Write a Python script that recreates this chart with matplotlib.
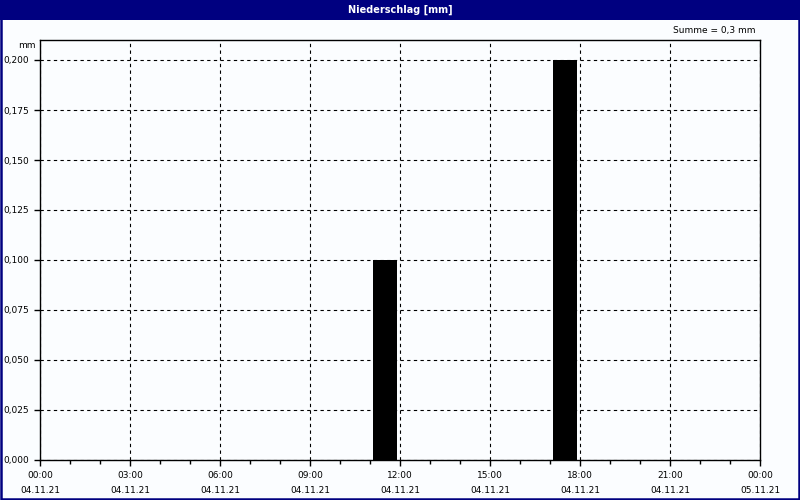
import matplotlib.pyplot as plt
import matplotlib.patches as mpatches
import numpy as np

# hourly precipitation 04.11.21, mm
hours = np.arange(24)
rain = [0, 0, 0, 0, 0, 0, 0, 0, 0, 0, 0, 0.1,
        0, 0, 0, 0, 0, 0.2, 0, 0, 0, 0, 0, 0]
tick_hours = np.arange(0, 25, 3)
tick_times = ['00:00', '03:00', '06:00', '09:00', '12:00', '15:00', '18:00', '21:00', '00:00']
tick_dates = ['04.11.21'] * 8 + ['05.11.21']
y_ticks = [0, 0.025, 0.05, 0.075, 0.1, 0.125, 0.15, 0.175, 0.2]
title = 'Niederschlag [mm]'
total = 'Summe = 0,3 mm'

plt.rcParams['font.family'] = 'DejaVu Sans'
plt.rcParams['font.size'] = 6.5

fig = plt.figure(figsize=(8, 5), dpi=100)
fig.patch.set_facecolor('#fbfdff')

# navy title bar and frame
fig.patches.append(mpatches.Rectangle((0, 0.96), 1, 0.04, transform=fig.transFigure,
                                      facecolor='#000080', edgecolor='none', zorder=0))
fig.patches.append(mpatches.Rectangle((0.001, 0.002), 0.998, 0.997, transform=fig.transFigure,
                                      facecolor='none', edgecolor='#000080', linewidth=1.8, zorder=5))
fig.text(0.5, 0.98, title, color='white', ha='center', va='center', fontsize=7, fontweight='bold')
fig.text(0.944, 0.938, total, ha='right', va='center')
fig.text(0.044, 0.91, 'mm', ha='right', va='center')

ax = fig.add_axes([0.05, 0.08, 0.9, 0.84])
ax.set_facecolor('#fbfdff')
ax.bar(hours + 0.5, rain, width=0.8, color='black', zorder=3)

ax.set_xlim(0, 24)
ax.set_ylim(0, 0.21)
ax.set_xticks(tick_hours)
ax.set_xticks(np.arange(25), minor=True)
ax.set_xticklabels([t + '\n' + d for t, d in zip(tick_times, tick_dates)], linespacing=1.9)
ax.set_yticks(y_ticks)
ax.set_yticklabels([('%.3f' % v).replace('.', ',') for v in y_ticks])
ax.tick_params(axis='both', which='major', length=4, width=1, color='black', pad=4)
ax.tick_params(axis='x', which='minor', length=3, width=1)

ax.grid(True, which='major', color='black', linestyle=(0, (3, 3)), linewidth=0.8, zorder=1)
ax.set_axisbelow(True)
for s in ax.spines.values():
    s.set_linewidth(1)
    s.set_color('black')

fig.savefig('out.png', dpi=100, facecolor=fig.get_facecolor())
